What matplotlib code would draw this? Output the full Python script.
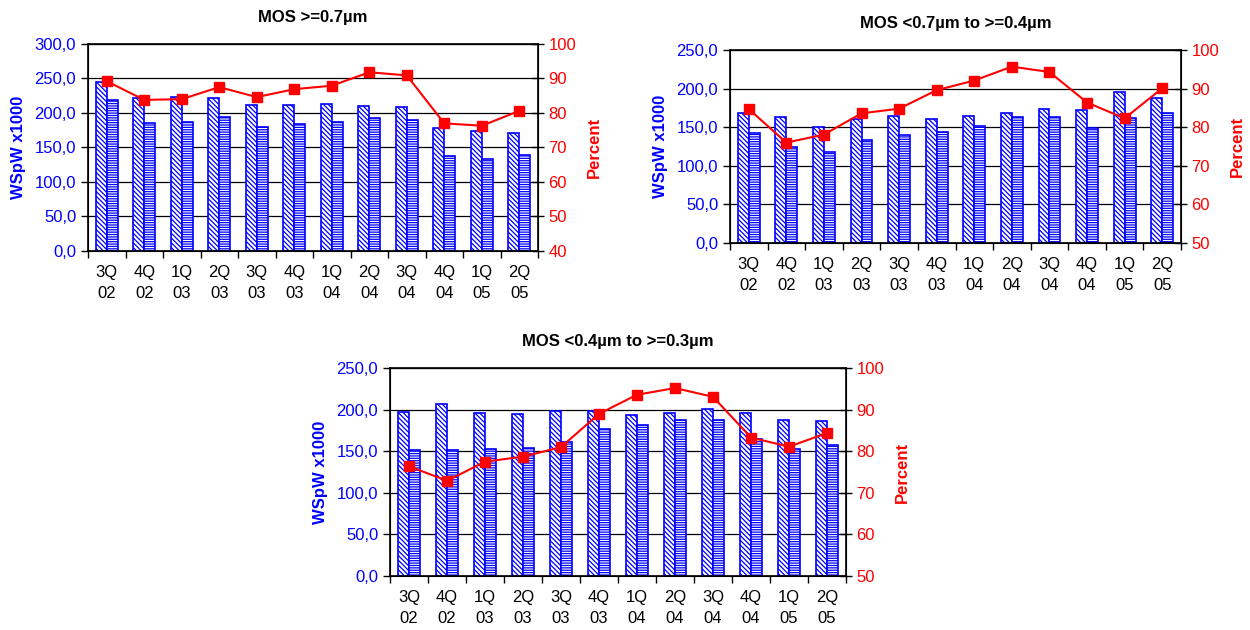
import numpy as np
import matplotlib.pyplot as plt
from matplotlib.ticker import FuncFormatter

plt.rcParams['font.family'] = ['Liberation Sans', 'DejaVu Sans']
plt.rcParams['hatch.linewidth'] = 0.9

quarters = ["3Q\n02", "4Q\n02", "1Q\n03", "2Q\n03", "3Q\n03", "4Q\n03",
            "1Q\n04", "2Q\n04", "3Q\n04", "4Q\n04", "1Q\n05", "2Q\n05"]

# MOS >=0.7um
cap_07 = [244.4, 221, 222.7, 221, 211, 211.6, 213, 210, 208, 178.7, 174.4, 171.5]
ws_07 = [218.4, 185, 187.4, 194.7, 179, 183.6, 187.4, 193.2, 189.4, 137.7, 133.3, 138.6]
pct_07 = [89.2, 83.8, 84.0, 87.5, 84.6, 86.9, 87.9, 91.8, 90.9, 77.0, 76.3, 80.6]

# MOS <0.7um to >=0.4um
cap_04 = [168.4, 162.8, 150.1, 161.0, 164, 160.3, 164.5, 168.8, 173, 171.8, 196, 187.5]
ws_04 = [142.9, 124.1, 117.8, 133.9, 139.5, 143.7, 151.4, 162.8, 162.8, 149.2, 161.6, 168.8]
pct_04 = [84.7, 76.0, 78.1, 83.6, 84.8, 89.6, 92.1, 95.7, 94.3, 86.4, 82.3, 90.1]

# MOS <0.4um to >=0.3um
cap_03 = [196.9, 206.9, 196.5, 194.8, 198.9, 198.5, 193.2, 196.5, 200.9, 196, 187.6, 186.8]
ws_03 = [151, 151.8, 152.2, 153.8, 161.4, 176.7, 181.2, 188, 187.2, 164.7, 152.2, 157.8]
pct_03 = [76.4, 72.9, 77.5, 78.7, 81.0, 89.0, 93.6, 95.2, 93.1, 83.3, 81.1, 84.4]

BLUE = '#0000FF'
RED = '#FF0000'
FS = 12


def comma_fmt(v, pos):
    return ("%.1f" % v).replace('.', ',')


def draw_panel(fig, rect, title, cap, ws, pct, ymax, pmin):
    ax = fig.add_axes(rect)
    x = np.arange(len(quarters))
    w = 0.29
    ax.bar(x - w / 2, cap, w, facecolor='white', edgecolor=BLUE,
           hatch='\\\\\\\\\\\\\\', linewidth=1.2, zorder=2)
    ax.bar(x + w / 2, ws, w, facecolor='white', edgecolor=BLUE,
           hatch='-------', linewidth=1.2, zorder=2)
    ax.set_xlim(-0.5, len(quarters) - 0.5)
    ax.set_ylim(0, ymax)
    ax.set_yticks(np.arange(0, ymax + 1, 50))
    ax.yaxis.set_major_formatter(FuncFormatter(comma_fmt))
    ax.grid(axis='y', color='black', linewidth=0.9, zorder=0)
    ax.set_axisbelow(True)
    ax.set_xticks(x)
    ax.set_xticklabels(quarters, linespacing=1.55)
    ax.set_xticks(np.arange(-0.5, len(quarters), 1), minor=True)
    ax.tick_params(axis='x', which='major', length=0, labelsize=FS, pad=10)
    ax.tick_params(axis='x', which='minor', length=5, width=1, direction='out')
    ax.tick_params(axis='y', labelsize=FS, labelcolor=BLUE, length=5,
                   width=1, direction='out')
    for s in ax.spines.values():
        s.set_linewidth(1.2)
    ax.set_ylabel("WSpW x1000", color=BLUE, fontsize=FS, fontweight='bold',
                  labelpad=6)
    ax.set_title(title, fontsize=FS, fontweight='bold', pad=16)

    ax2 = ax.twinx()
    ax2.plot(x, pct, color=RED, linewidth=1.5, marker='s', markersize=7,
             markeredgecolor=RED, zorder=5)
    ax2.set_ylim(pmin, 100)
    ax2.set_yticks(np.arange(pmin, 101, 10))
    ax2.tick_params(axis='y', labelsize=FS, labelcolor=RED, length=8,
                    width=1, direction='inout')
    ax2.set_ylabel("Percent", color=RED, fontsize=FS, fontweight='bold',
                   labelpad=8)
    return ax, ax2


fig = plt.figure(figsize=(12.5, 6.3), dpi=100)
draw_panel(fig, [0.0704, 0.6016, 0.36, 0.3286], "MOS >=0.7\u00b5m",
           cap_07, ws_07, pct_07, 300, 40)
draw_panel(fig, [0.584, 0.6143, 0.3608, 0.3063], "MOS <0.7\u00b5m to >=0.4\u00b5m",
           cap_04, ws_04, pct_04, 250, 50)
draw_panel(fig, [0.312, 0.0857, 0.3648, 0.330], "MOS <0.4\u00b5m to >=0.3\u00b5m",
           cap_03, ws_03, pct_03, 250, 50)

fig.savefig("out.png", dpi=100)
